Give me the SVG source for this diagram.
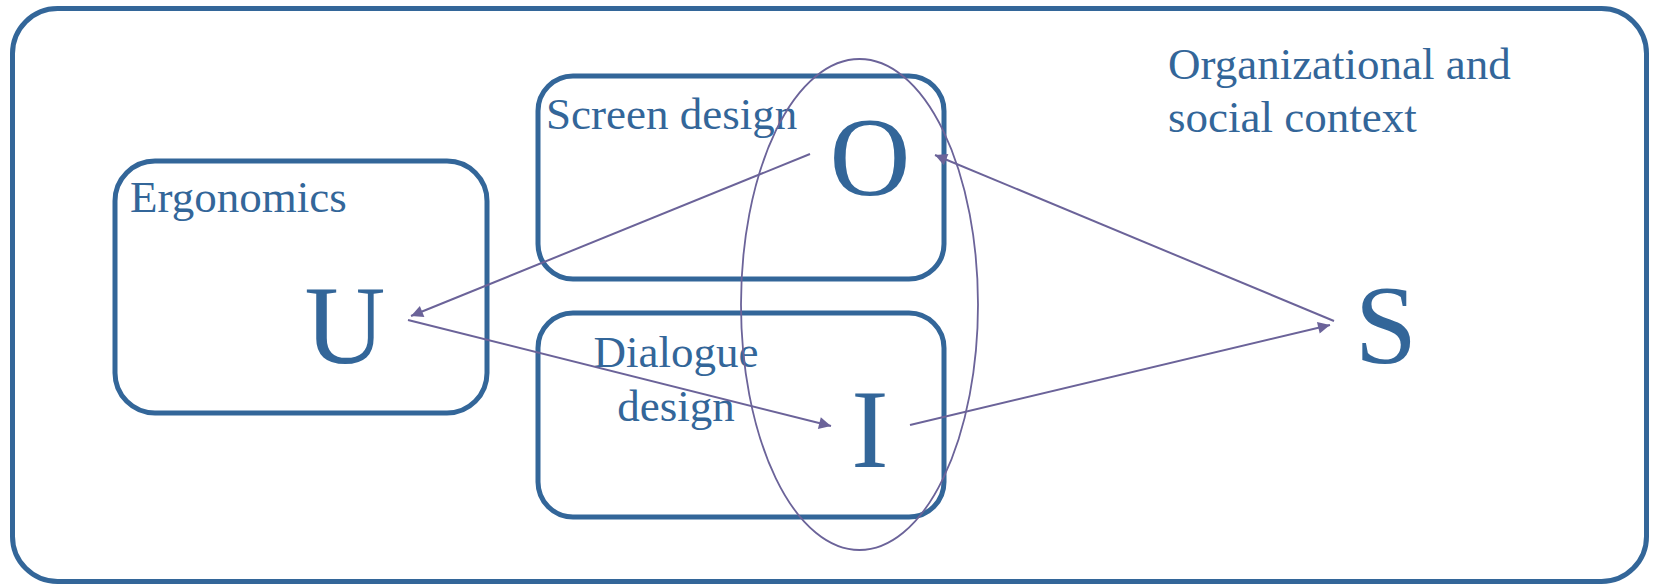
<svg xmlns="http://www.w3.org/2000/svg" width="1653" height="586" viewBox="0 0 1653 586">
<defs>
<style>
.box{fill:none;stroke:#336699;stroke-width:5}
.lbl{font-family:"Liberation Serif","Times New Roman",serif;font-size:45px;fill:#336699}
.big{font-family:"Liberation Serif","Times New Roman",serif;font-size:112px;fill:#336699;text-anchor:middle}
.conn{stroke:#6B6399;stroke-width:2;fill:none}
</style>
<marker id="ah" viewBox="0 0 10 10" refX="10" refY="5" markerWidth="9" markerHeight="6" markerUnits="strokeWidth" orient="auto">
<path d="M0,0 L10,5 L0,10 z" fill="#6B6399"/>
</marker>
</defs>
<rect width="1653" height="586" fill="#ffffff"/>
<g id="context">
<rect class="box" x="12.5" y="8.5" width="1634" height="573" rx="45"/>
<text class="lbl" x="1168" y="79">Organizational and</text>
<text class="lbl" x="1168" y="132">social context</text>
</g>
<g id="ergonomics">
<rect class="box" x="115" y="161" width="372" height="252" rx="40"/>
<text class="lbl" x="130" y="212">Ergonomics</text>
<text class="big" x="345" y="363">U</text>
</g>
<g id="screen-design">
<rect class="box" x="538" y="76" width="406" height="203" rx="35"/>
<text class="lbl" x="546" y="129">Screen design</text>
<text class="big" x="870" y="195">O</text>
</g>
<g id="dialogue-design">
<rect class="box" x="538" y="313" width="406" height="204" rx="35"/>
<text class="lbl" x="676" y="367" text-anchor="middle">Dialogue</text>
<text class="lbl" x="676" y="421" text-anchor="middle">design</text>
<text class="big" x="870" y="467">I</text>
</g>
<g id="interface">
<ellipse cx="859.5" cy="304.5" rx="118.5" ry="245.5" fill="none" stroke="#6B6399" stroke-width="1.8"/>
</g>
<g id="system">
<text class="big" x="1386" y="363">S</text>
</g>
<g id="connectors">
<line class="conn" x1="810" y1="154" x2="411" y2="316" marker-end="url(#ah)"/>
<line class="conn" x1="408" y1="320" x2="831" y2="426" marker-end="url(#ah)"/>
<line class="conn" x1="910" y1="425" x2="1330" y2="325" marker-end="url(#ah)"/>
<line class="conn" x1="1334" y1="321" x2="935" y2="155" marker-end="url(#ah)"/>
</g>
</svg>
